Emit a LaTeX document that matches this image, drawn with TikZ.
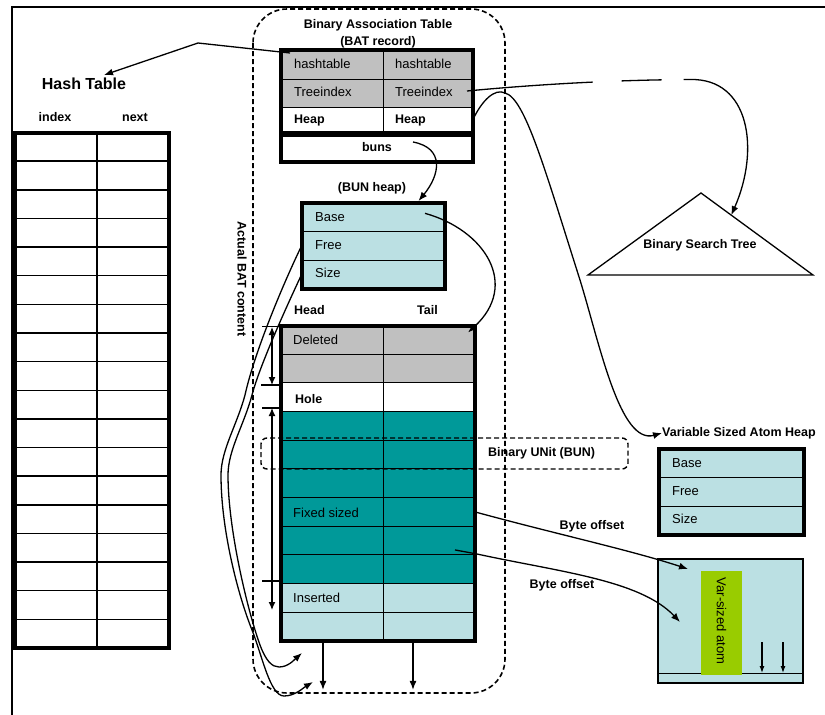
\documentclass[tikz,border=0pt]{standalone}
\usepackage{fontspec}
\setmainfont{Liberation Sans}
\usetikzlibrary{arrows.meta,calc}
\definecolor{cgray}{RGB}{192,192,192}
\definecolor{cteal}{RGB}{0,153,153}
\definecolor{clblue}{RGB}{187,224,227}
\definecolor{cgreen}{RGB}{153,204,0}
\begin{document}
\begin{tikzpicture}[x=1pt,y=-1pt,
  cellbox/.style={draw=black,line width=1pt,anchor=north west,inner sep=0pt,outer sep=0pt},
  rtxt/.style={font=\fontsize{13}{15}\selectfont,anchor=west,inner sep=0pt},
  btxt/.style={font=\fontsize{12.5}{15}\selectfont\bfseries,inner sep=0pt},
  thickframe/.style={line width=4pt},
  conn/.style={line width=1.3pt},
  arr/.style={-{Latex[length=9pt,width=7pt]}},
  dimarr/.style={line width=1.2pt,{Latex[length=8pt,width=7pt]}-{Latex[length=8pt,width=7pt]}},
  dashbox/.style={line width=1.5pt,dash pattern=on 5pt off 3pt}
]
\useasboundingbox (0,0) rectangle (825,715);
\fill[white] (0,0) rectangle (825,715);
% frame
\draw[line width=1.3pt] (12,715) -- (12,7) -- (825,7);

% big dashed rounded box
\draw[dashbox,line width=1.6pt,rounded corners=34pt] (253,9) rectangle (505,693);

% ---------- Hash table ----------
\node[btxt,font=\fontsize{16}{18}\selectfont\bfseries] (htitle) at (84,84) {Hash Table};
\node[btxt] (hidx) at (55,117) {index};
\node[btxt] (hnext) at (135,117) {next};
\foreach \i in {0,...,17}{
  \node[cellbox,line width=1.5pt,fill=white,minimum width=82pt,minimum height=28.64pt] (hA\i) at (15,{132.5+28.64*\i}) {};
  \node[cellbox,line width=1.5pt,fill=white,minimum width=72pt,minimum height=28.64pt] (hB\i) at (97,{132.5+28.64*\i}) {};
}
\draw[thickframe] (hA0.north west) rectangle (hB17.south east);

% ---------- BAT record ----------
\node[btxt] (battitle) at (378,25) {Binary Association Table};
\node[btxt] (batsub) at (378,42) {(BAT record)};
\node[cellbox,fill=cgray,minimum width=102pt,minimum height=29.5pt] (ht1) at (281,49.5) {};
\node[cellbox,fill=cgray,minimum width=89.5pt,minimum height=29.5pt] (ht2) at (383,49.5) {};
\node[cellbox,fill=cgray,minimum width=102pt,minimum height=28pt] (ti1) at (281,79) {};
\node[cellbox,fill=cgray,minimum width=89.5pt,minimum height=28pt] (ti2) at (383,79) {};
\node[cellbox,fill=white,minimum width=102pt,minimum height=27pt] (hp1) at (281,107) {};
\node[cellbox,fill=white,minimum width=89.5pt,minimum height=27pt] (hp2) at (383,107) {};
\node[cellbox,fill=white,minimum width=191.5pt,minimum height=27.5pt] (buns) at (281,134) {};
\draw[line width=6pt] (hp1.south west) -- (hp2.south east);
\draw[thickframe] (ht1.north west) rectangle (buns.south east);
\node[rtxt] at (294,64) {hashtable};
\node[rtxt] at (395,64) {hashtable};
\node[rtxt] at (294,92) {Treeindex};
\node[rtxt] at (395,92) {Treeindex};
\node[btxt,anchor=west] at (294,120) {Heap};
\node[btxt,anchor=west] at (395,120) {Heap};
\node[btxt] at (377,147) {buns};

% ---------- BUN heap ----------
\node[btxt] (bunheaplbl) at (372,188) {(BUN heap)};
\node[cellbox,fill=clblue,minimum width=143.5pt,minimum height=28.67pt] (bh1) at (301.5,203) {};
\node[cellbox,fill=clblue,minimum width=143.5pt,minimum height=28.67pt] (bh2) at (301.5,231.67) {};
\node[cellbox,fill=clblue,minimum width=143.5pt,minimum height=28.67pt] (bh3) at (301.5,260.33) {};
\draw[thickframe] (bh1.north west) rectangle (bh3.south east);
\node[rtxt] at (315,217) {Base};
\node[rtxt] at (315,245) {Free};
\node[rtxt] at (315,273) {Size};

% ---------- main BUN table ----------
\node[btxt,anchor=west] at (294,310) {Head};
\node[btxt,anchor=west] at (417,310) {Tail};
\foreach \c [count=\n from 0] in {cgray,cgray,white,cteal,cteal,cteal,cteal,cteal,cteal,clblue,clblue}{
  \node[cellbox,fill=\c,minimum width=102pt,minimum height=28.68pt] (La\n) at (281,{325.5+28.68*\n}) {};
  \node[cellbox,fill=\c,minimum width=92pt,minimum height=28.68pt] (Rb\n) at (383,{325.5+28.68*\n}) {};
}
\draw[thickframe] (La0.north west) rectangle (Rb10.south east);
\node[rtxt] at (293,340) {Deleted};
\node[btxt,anchor=west] at (295,399) {Hole};
\node[rtxt] at (293,513) {Fixed sized};
\node[rtxt] at (293,598) {Inserted};

% Binary unit dashed box
\draw[dashbox,line width=1.4pt,rounded corners=6pt] (261,438) rectangle (628,469);
\node[btxt,anchor=west] at (488,453) {Binary UNit (BUN)};

% Actual BAT content
\node[btxt,rotate=-90] at (242,279) {Actual BAT content};

% dimension arrows
\draw[line width=1.2pt] (262,326.5) -- (281,326.5);
\draw[line width=1.2pt] (261,385) -- (281,385);
\draw[line width=1.2pt] (262,408) -- (281,408);
\draw[line width=1.2pt] (262,581) -- (281,581);
\draw[dimarr] (272,327) -- (272,385);
\draw[dimarr] (272,408) -- (272,610);

% down arrows below table
\coordinate (dA) at ($(La10.south west)+(42,0)$);
\coordinate (dB) at ($(Rb10.south west)+(30,0)$);
\draw[line width=1.5pt,arr] (dA) -- ($(dA)+(0,49)$);
\draw[line width=1.5pt,arr] (dB) -- ($(dB)+(0,49)$);

% ---------- Binary search tree ----------
\coordinate (bstA) at (701,193);
\coordinate (bstL) at (588,275);
\coordinate (bstR) at (813,275);
\draw[line width=1.3pt] (bstA) -- (bstL) -- (bstR) -- cycle;
\node[btxt] (bstlbl) at (700,245) {Binary Search Tree};

% ---------- Variable sized atom heap ----------
\node[btxt,anchor=west] (vlabel) at (662,433) {Variable Sized Atom Heap};
\node[cellbox,fill=clblue,minimum width=144.5pt,minimum height=28.83pt] (vh1) at (659,448.5) {};
\node[cellbox,fill=clblue,minimum width=144.5pt,minimum height=28.83pt] (vh2) at (659,477.33) {};
\node[cellbox,fill=clblue,minimum width=144.5pt,minimum height=28.83pt] (vh3) at (659,506.17) {};
\draw[thickframe] (vh1.north west) rectangle (vh3.south east);
\node[rtxt] at (672,463) {Base};
\node[rtxt] at (672,491) {Free};
\node[rtxt] at (672,519) {Size};

\node[draw,line width=1.2pt,fill=clblue,anchor=north west,minimum width=145pt,minimum height=124pt,inner sep=0pt,outer sep=0pt] (vbox) at (658,559) {};
\draw[line width=1pt] (658,673) -- (803,673);
\fill[cgreen] (701,571) rectangle (742,675);
\node[rtxt,anchor=center,rotate=-90] (vatom) at (721.5,621) {Var-sized atom};
\draw[line width=1.2pt,-{Latex[length=7pt,width=5pt]}] (762,642) -- (762,673);
\draw[line width=1.2pt,-{Latex[length=7pt,width=5pt]}] (783,642) -- (783,673);

% ---------- connectors ----------
% hashtable -> Hash Table
\coordinate (hs) at ($(ht1.north west)+(9,3.5)$);
\coordinate (htip) at (104,75);
\draw[conn,arr] (hs) -- (198,43) -- (htip);

% Treeindex -> Binary Search Tree
\coordinate (tis) at ($(ti2.east)+(-5.5,-2)$);
\coordinate (bsthit) at ($(bstA)!0.27!(bstR)$);
\draw[conn,arr,dash pattern=on 126pt off 29pt on 40pt off 22pt on 600pt off 1pt]
  (tis) .. controls (520,86) and (600,80) .. (690,79.5)
  .. controls (750,78) and (760,150) .. (bsthit);

% Heap -> Variable Sized Atom Heap
\draw[conn,arr] (hp2.east) .. controls (482,100) and (495,88) .. (505,93)
  .. controls (525,98) and (545,170) .. (580,280)
  .. controls (600,345) and (620,445) .. (vlabel.west);

% buns -> BUN heap
\coordinate (bunst) at ($(buns.north west)+(132,8)$);
\coordinate (bhtip) at ($(bh1.north west)+(117,-2)$);
\draw[conn,arr] (bunst) .. controls (445,148) and (440,175) .. (bhtip);

% Base -> Deleted tail
\coordinate (basest) at ($(bh1.west)+(123.5,-4)$);
\coordinate (deltip) at ($(Rb0.north east)+(-7,7)$);
\draw[conn,arr] (basest) .. controls (485,230) and (520,285) .. (deltip);

% Free -> bottom
\coordinate (ftip) at (313,682);
\draw[conn,arr] (bh2.west) .. controls (285,280) and (255,350) .. (245,395)
  .. controls (237,425) and (221,450) .. (221,475)
  .. controls (221,530) and (238,595) .. (252,630)
  .. controls (262,655) and (270,696) .. (284,696)
  .. controls (295,696) and (303,688) .. (ftip);

% Size -> bottom
\coordinate (stip) at (302,653);
\draw[conn,arr] (bh3.west) .. controls (285,310) and (260,365) .. (252,395)
  .. controls (244,425) and (228,450) .. (228,475)
  .. controls (228,530) and (248,612) .. (260,645)
  .. controls (266,661) and (272,667) .. (279,667)
  .. controls (288,667) and (294,660) .. (stip);

% Byte offsets
\coordinate (bo1tip) at ($(vbox.north west)+(30,10)$);
\coordinate (bo2st) at ($(Rb7.south west)+(72,-5)$);
\coordinate (bo2tip) at ($(vbox.north west)+(22,63)$);
\draw[conn,arr] (Rb6.east) .. controls (560,535) and (630,550) .. (bo1tip);
\draw[conn,arr] (bo2st) -- (477,554) .. controls (560,572) and (640,580) .. (bo2tip);
\node[btxt] at (592,526) {Byte offset};
\node[btxt] at (562,585) {Byte offset};
\end{tikzpicture}
\end{document}
